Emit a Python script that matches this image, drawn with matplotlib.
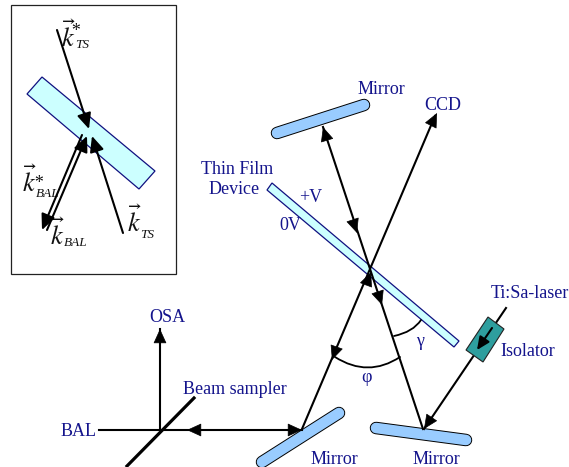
import matplotlib
matplotlib.use('Agg')
import matplotlib.pyplot as plt
from matplotlib.patches import Polygon, Rectangle, FancyArrowPatch
from matplotlib.path import Path

inset_box = [11, 5, 165, 269]
inset_slab = [(27, 94), (42, 77), (155, 171), (139, 189)]
inset_arrows = [((57, 30), (89, 129)), ((123, 233), (92, 136)),
                ((82, 135), (42, 230)), ((47, 230), (87, 136))]
inset_k = [(61, 47, r'$\vec{k}$'), (22, 192, r'$\vec{k}$'),
           (50, 245, r'$\vec{k}$'), (127, 232, r'$\vec{k}$')]
inset_stars = [(75, 36, '*'), (38, 188, '*')]
inset_sub = [(75, 48, 'TS'), (36, 197, 'BAL'), (64, 246, 'BAL'), (140, 238, 'TS')]

device_slab = [(272, 183), (267, 190), (454, 347), (459, 341)]
isolator = [(488, 317), (504, 329), (483, 362), (466, 350)]
mirrors = [((277, 133), (364, 105)), ((262, 462), (339, 413)), ((376, 428), (466, 440))]

# plain lines and arrow heads (tail, tip)
lines = [((302, 429), (435, 116)), ((323, 127), (423, 429)), ((506, 308), (424, 429)),
         ((99, 430), (302, 430)), ((160, 430), (160, 329))]
heads = [((431, 125), (437, 113)), ((327, 140), (323, 127)), ((353, 221), (357, 233)),
         ((366, 285), (371, 272)), ((378, 293), (382, 305)), ((337, 346), (332, 360)),
         ((432, 417), (424, 429)), ((199, 430), (187, 430)), ((290, 430), (302, 430)),
         ((160, 341), (160, 329))]
isolator_arrow = ((492, 328), (477, 350))
sampler = ((194, 398), (127, 466))
gamma_arc = [(394, 336), (413, 332), (421, 320)]
phi_arc = [(335, 357), (368, 378), (400, 357)]

labels = [(381, 89, 'Mirror'), (443, 105, 'CCD'), (237, 170, 'Thin Film'), (234, 190, 'Device'),
          (311, 197, '+V'), (290, 226, '0V'), (530, 293, 'Ti:Sa-laser'), (528, 352, 'Isolator'),
          (167, 318, 'OSA'), (235, 389, 'Beam sampler'), (79, 432, 'BAL'),
          (334, 460, 'Mirror'), (436, 460, 'Mirror'), (420, 341, 'γ'), (367, 378, 'φ')]

navy = '#14148c'
plt.rcParams['font.family'] = ['Liberation Serif', 'DejaVu Serif']
plt.rcParams['mathtext.fontset'] = 'stix'

fig = plt.figure(figsize=(5.69, 4.67), dpi=100)
ax = fig.add_axes([0, 0, 1, 1])
ax.set_xlim(0, 569)
ax.set_ylim(467, 0)
ax.axis('off')


def arrow(tail, tip, lw=1.5, size=17, z=5):
    ax.add_patch(FancyArrowPatch(tail, tip, arrowstyle='-|>,head_length=0.55,head_width=0.25',
                                 mutation_scale=size, color='black', lw=lw,
                                 shrinkA=0, shrinkB=0, zorder=z))


ax.add_patch(Rectangle(inset_box[:2], inset_box[2], inset_box[3], fc='white', ec='#222222', lw=0.9))
ax.add_patch(Polygon(inset_slab, fc='#ccffff', ec='#101080', lw=0.9))
for tail, tip in inset_arrows:
    arrow(tail, tip, size=17)
for x, y, s in inset_k:
    ax.text(x, y, s, fontsize=19, color='#111111', ha='left', va='baseline')
for x, y, s in inset_stars:
    ax.text(x, y, s, fontsize=13, color='#111111', style='italic', ha='center', va='baseline')
for x, y, s in inset_sub:
    ax.text(x, y, s, fontsize=9.5, color='#111111', style='italic', ha='left', va='baseline')

ax.add_patch(Polygon(device_slab, fc='#ccffff', ec='#101080', lw=0.9))

for p, q in mirrors:
    xs = [p[0], q[0]]
    ys = [p[1], q[1]]
    ax.plot(xs, ys, color='black', lw=9, solid_capstyle='round', zorder=3)
    ax.plot(xs, ys, color='#99ccff', lw=7.6, solid_capstyle='round', zorder=3)

ax.add_patch(Polygon(isolator, fc='#2e9e9e', ec='#222222', lw=0.8, zorder=6))
arrow(isolator_arrow[0], isolator_arrow[1], size=14, z=7)

for p, q in lines:
    ax.plot([p[0], q[0]], [p[1], q[1]], color='black', lw=1.5, zorder=4)
for tail, tip in heads:
    arrow(tail, tip, lw=0.5, size=17)
ax.plot([sampler[0][0], sampler[1][0]], [sampler[0][1], sampler[1][1]], color='black', lw=2.3, zorder=5)

for arc in (gamma_arc, phi_arc):
    ax.add_patch(FancyArrowPatch(path=Path(arc, [Path.MOVETO, Path.CURVE3, Path.CURVE3]),
                                 arrowstyle='-', color='black', lw=1.3, zorder=4))

for x, y, s in labels:
    ax.text(x, y, s, fontsize=13, color=navy, ha='center', va='center')

fig.savefig('out.png', dpi=100)
